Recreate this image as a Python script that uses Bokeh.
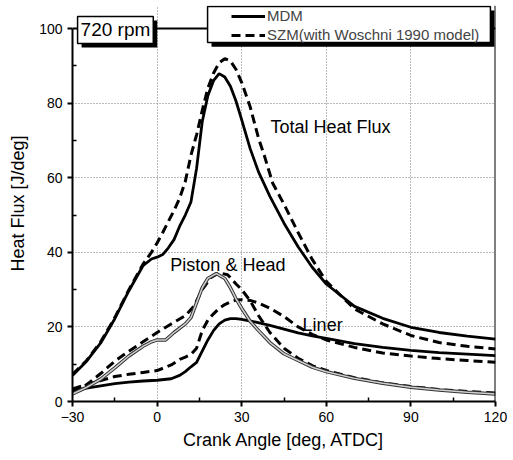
from bokeh.plotting import figure
from bokeh.models import (Range1d, Legend, LegendItem, Label, BoxAnnotation,
                          FixedTicker, Span)
from bokeh.embed import file_html
from bokeh.resources import INLINE

# ---------------- data ----------------
x_tot_mdm = [-30,-25,-20,-15,-10,-5,-2,0,2,4,6,8,10,12,14,16,18,20,22,24,26,28,30,33,36,40,45,50,55,60,70,80,90,100,110,120]
y_tot_mdm = [7.0,10.8,15.7,22.2,29.7,36.4,38.2,38.7,39.4,41.2,43.4,47.0,50.0,53.5,62.5,75.0,82.0,86.0,87.9,87.0,84.5,80.5,75.5,67.8,61.5,55.0,47.8,41.5,36.0,31.5,25.5,22.3,19.9,18.5,17.5,16.7]

x_tot_szm = [-30,-25,-20,-15,-10,-5,-2,0,2,4,6,8,10,12,14,16,18,20,22,24,26,28,30,33,36,38,41,45,50,55,60,70,80,90,100,110,120]
y_tot_szm = [7.3,11.0,16.0,22.5,30.0,36.8,40.0,42.5,45.3,48.3,51.2,54.5,59.0,66.0,71.5,78.0,84.0,88.0,90.8,91.9,91.3,89.0,85.5,79.0,70.5,66.0,58.5,52.9,45.3,38.1,32.2,24.8,20.8,17.7,15.8,14.8,14.1]

x_lin_mdm = [-30,-25,-20,-15,-10,-5,0,5,8,10,12,14,16,18,20,22,24,26,28,30,35,40,45,50,55,60,70,80,90,100,110,120]
y_lin_mdm = [2.9,3.6,4.2,4.8,5.2,5.5,5.7,6.1,7.0,8.0,9.3,10.5,13.5,16.5,19.0,20.8,21.8,22.2,22.2,22.0,21.3,20.4,19.4,18.4,17.6,16.9,15.5,14.5,13.7,13.1,12.7,12.3]

x_lin_szm = [-30,-25,-20,-15,-10,-5,0,5,8,10,12,14,16,18,20,22,24,26,28,30,33,36,40,45,50,55,60,70,80,90,100,110,120]
y_lin_szm = [3.4,4.5,5.6,6.7,7.3,7.8,8.3,9.8,11.3,11.9,12.6,14.3,19.0,21.8,23.5,25.0,26.0,26.7,27.2,27.3,27.1,26.4,25.0,22.8,20.0,18.0,16.5,14.5,13.0,12.2,11.5,11.0,10.5]

x_pis_mdm = [-30,-25,-20,-15,-10,-5,-2,0,3,6,10,12,14,16,18,21,24,26,28,30,33,36,40,45,50,55,60,70,80,90,100,110,120]
y_pis_mdm = [2.0,3.8,6.0,9.0,12.2,14.8,16.0,16.5,16.5,18.5,20.8,22.5,26.5,30.5,33.0,34.3,33.0,30.5,27.5,25.0,21.5,19.0,15.8,12.8,11.0,9.2,8.0,6.2,4.9,3.8,3.1,2.5,2.0]

x_pis_szm = [-30,-25,-20,-15,-10,-5,0,5,10,13,16,19,22,25,28,30,33,36,40,45,50,55,60,70,80,90,100,110,120]
y_pis_szm = [2.5,4.5,7.5,10.8,13.5,16.0,18.5,20.8,23.0,25.5,30.0,33.2,34.5,34.0,31.5,30.0,27.0,23.0,18.5,14.3,11.6,9.6,8.3,6.4,5.0,4.0,3.2,2.7,2.3]

x_ticks = [-30, 0, 30, 60, 90, 120]
x_minor = [-15, 15, 45, 75, 105]
y_ticks = [0, 20, 40, 60, 80, 100]
y_minor = [10, 30, 50, 70, 90]

FONT = "Liberation Sans"

p = figure(width=513, height=460, output_backend="svg", toolbar_location=None,
           x_range=Range1d(-30, 120), y_range=Range1d(0, 106.17),
           min_border_left=72, min_border_right=18, min_border_top=5,
           min_border_bottom=59)
p.background_fill_color = "white"
p.border_fill_color = "white"
p.outline_line_color = None

for ax in (p.xaxis[0], p.yaxis[0]):
    ax.axis_line_width = 2
    ax.axis_line_color = "black"
    ax.major_tick_out = 5
    ax.major_tick_in = 0
    ax.minor_tick_in = 4
    ax.minor_tick_out = 0
    ax.major_tick_line_width = 2
    ax.minor_tick_line_width = 1.5
    ax.major_label_text_font = FONT
    ax.major_label_text_font_size = "14px"
    ax.major_label_text_color = "black"
    ax.major_label_text_line_height = 1.0
    ax.axis_label_text_font = FONT
    ax.axis_label_text_font_size = "18px"
    ax.axis_label_text_font_style = "normal"
    ax.axis_label_text_color = "black"
    ax.axis_label_text_line_height = 1.0

p.xaxis.ticker = FixedTicker(ticks=x_ticks, minor_ticks=x_minor)
p.yaxis.ticker = FixedTicker(ticks=y_ticks, minor_ticks=y_minor)
p.yaxis.bounds = (0, 100)
p.xaxis.axis_label = "Crank Angle [deg, ATDC]"
p.yaxis.axis_label = "Heat Flux [J/deg]"
p.xaxis.major_label_standoff = 5
p.xaxis.axis_label_standoff = 5
p.yaxis.major_label_standoff = 5
p.yaxis.axis_label_standoff = 8

for g in (p.xgrid[0], p.ygrid[0]):
    g.grid_line_color = "#777777"
    g.grid_line_dash = "1 2"
    g.grid_line_width = 1

DASH = "9 5"
r_tm = p.line(x_tot_mdm, y_tot_mdm, line_color="black", line_width=2.8)
r_ts = p.line(x_tot_szm, y_tot_szm, line_color="black", line_width=3, line_dash=DASH)
p.line(x_lin_mdm, y_lin_mdm, line_color="black", line_width=2.8)
p.line(x_lin_szm, y_lin_szm, line_color="black", line_width=3, line_dash=DASH)
p.line(x_pis_szm, y_pis_szm, line_color="black", line_width=3, line_dash=DASH)
p.line(x_pis_mdm, y_pis_mdm, line_color="#333333", line_width=3.5)
p.line(x_pis_mdm, y_pis_mdm, line_color="#d0d0d0", line_width=1.5)

# frame: top and right borders
p.add_layout(Span(location=100, dimension="width", line_color="black", line_width=2))
p.add_layout(Span(location=120, dimension="height", line_color="black", line_width=2))

# curve labels
for txt, lx, ly in (("Total Heat Flux", 40.2, 73.5), ("Piston & Head", 4.7, 36.5), ("Liner", 51.6, 20.4)):
    p.add_layout(Label(x=lx, y=ly, text=txt, text_font=FONT, text_font_size="18px",
                       text_baseline="middle", text_align="left", text_color="black"))

# 720 rpm box with shadow
p.add_layout(Label(x=-28.2, y=96.0, text="720 rpm", text_font=FONT, text_font_size="19px",
                   text_baseline="bottom", text_color="black", x_offset=4, y_offset=-4,
                   background_fill_color="black", padding=3))
p.add_layout(Label(x=-28.2, y=96.0, text="720 rpm", text_font=FONT, text_font_size="19px",
                   text_baseline="bottom", text_color="black",
                   background_fill_color="white", border_line_color="black",
                   border_line_width=1.5, padding=3))

# legend box with shadow
p.add_layout(BoxAnnotation(left=19.3, right=119.6, bottom=95.1, top=104.8,
                           fill_color="black", fill_alpha=1, line_alpha=0))
p.add_layout(BoxAnnotation(left=17.9, right=118.2, bottom=96.25, top=105.9,
                           fill_color="white", fill_alpha=1, line_color="black",
                           line_width=1.5, line_alpha=1))
legend = Legend(items=[LegendItem(label="MDM", renderers=[r_tm]),
                       LegendItem(label="SZM(with Woschni 1990 model)", renderers=[r_ts])],
                location=(159, 358), padding=0, margin=0, spacing=2,
                glyph_width=34, glyph_height=16, label_height=16, label_standoff=2,
                label_text_font=FONT, label_text_font_size="15px",
                border_line_alpha=0, background_fill_alpha=0)
p.add_layout(legend, "center")

open("out.html", "w").write(file_html(p, INLINE))
